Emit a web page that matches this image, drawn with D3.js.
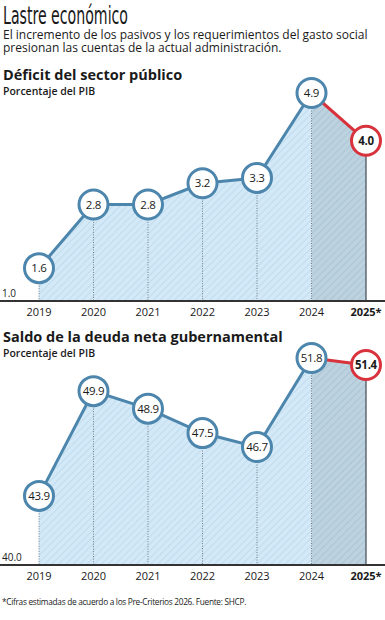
<!DOCTYPE html>
<html>
<head>
<meta charset="utf-8">
<script src="https://d3js.org/d3.v7.min.js"></script>
<style>
  body { margin: 0; background: #fff; }
  svg text { font-family: "Open Sans", "Noto Sans", sans-serif; fill: #1a1a1a; }
</style>
</head>
<body>
<div id="chart"></div>
<script>
// data
const years = ["2019", "2020", "2021", "2022", "2023", "2024", "2025*"];
const deficit = [1.6, 2.8, 2.8, 3.2, 3.3, 4.9, 4.0];
const deuda = [43.9, 49.9, 48.9, 47.5, 46.7, 51.8, 51.4];
const deficitLabels = ["1.6", "2.8", "2.8", "3.2", "3.3", "4.9", "4.0"];
const deudaLabels = ["43.9", "49.9", "48.9", "47.5", "46.7", "51.8", "51.4"];

const width = 385, height = 620;
const blue = "#4d86ad", red = "#d8333d";

const svg = d3.select("#chart").append("svg")
  .attr("width", width)
  .attr("height", height);

// hatch patterns
const defs = svg.append("defs");
function hatch(id, bg, line) {
  const p = defs.append("pattern")
    .attr("id", id)
    .attr("patternUnits", "userSpaceOnUse")
    .attr("width", 5).attr("height", 5)
    .attr("patternTransform", "rotate(45)");
  p.append("rect").attr("width", 5).attr("height", 5).attr("fill", bg);
  p.append("line").attr("x1", 0).attr("y1", 0).attr("x2", 0).attr("y2", 5)
    .attr("stroke", line).attr("stroke-width", 1.4);
}
hatch("h-light", "#d3e9f7", "#b9d7eb");
hatch("h-dark", "#bcd2df", "#a6bfcf");

// header
svg.append("text")
  .attr("x", 3).attr("y", 24)
  .attr("textLength", 125)
  .attr("lengthAdjust", "spacingAndGlyphs")
  .style("font-family", "'DejaVu Sans Condensed', 'Liberation Sans', sans-serif")
  .style("font-size", "24px")
  .text("Lastre económico");
svg.append("text").attr("x", 3).attr("y", 38.5).style("font-size", "12px")
  .text("El incremento de los pasivos y los requerimientos del gasto social");
svg.append("text").attr("x", 3).attr("y", 52).style("font-size", "12px")
  .text("presionan las cuentas de la actual administración.");

const x = d3.scalePoint().domain(years).range([39, 366]);

function drawChart(opts) {
  const g = svg.append("g");
  const y = d3.scaleLinear().domain([opts.min, opts.max]).range([opts.base, opts.top]);

  g.append("text").attr("x", 3).attr("y", opts.titleY)
    .style("font-size", "14.5px").style("font-weight", "bold")
    .text(opts.title);
  g.append("text").attr("x", 3).attr("y", opts.titleY + 15)
    .style("font-size", "10.5px").style("font-weight", "600")
    .text("Porcentaje del PIB");

  const pts = years.map((d, i) => ({ year: d, v: opts.values[i], label: opts.labels[i], i: i }));

  const area = d3.area()
    .x(d => x(d.year))
    .y0(opts.base)
    .y1(d => y(d.v));

  g.append("path").datum(pts.slice(0, 6)).attr("d", area).attr("fill", "url(#h-light)");
  g.append("path").datum(pts.slice(5)).attr("d", area).attr("fill", "url(#h-dark)");

  // dotted drop lines
  g.selectAll(".drop").data(pts.slice(0, 6)).enter().append("line")
    .attr("x1", d => x(d.year)).attr("x2", d => x(d.year))
    .attr("y1", d => y(d.v)).attr("y2", opts.base)
    .attr("stroke", "#6f7f8a").attr("stroke-width", 1)
    .attr("stroke-dasharray", "1,1.5");
  g.append("line")
    .attr("x1", x(years[6])).attr("x2", x(years[6]))
    .attr("y1", y(opts.values[6])).attr("y2", opts.base)
    .attr("stroke", "#4a5560").attr("stroke-width", 1.3);

  // line
  const line = d3.line().x(d => x(d.year)).y(d => y(d.v));
  g.append("path").datum(pts.slice(0, 6)).attr("d", line)
    .attr("fill", "none").attr("stroke", blue).attr("stroke-width", 3);
  g.append("path").datum(pts.slice(5)).attr("d", line)
    .attr("fill", "none").attr("stroke", red).attr("stroke-width", 3);

  // baseline axis
  g.append("line").attr("x1", 0).attr("x2", width)
    .attr("y1", opts.base + 1).attr("y2", opts.base + 1)
    .attr("stroke", "#333").attr("stroke-width", 2);
  g.append("text").attr("x", 2).attr("y", opts.base - 3)
    .style("font-size", "10px").text(opts.minLabel);

  g.selectAll(".yr").data(years).enter().append("text")
    .attr("x", d => x(d)).attr("y", opts.base + 16)
    .attr("text-anchor", "middle")
    .style("font-size", "11px")
    .style("font-weight", (d, i) => i === 6 ? "bold" : "normal")
    .text(d => d);

  // markers
  const m = g.selectAll(".pt").data(pts).enter().append("g")
    .attr("transform", d => "translate(" + x(d.year) + "," + y(d.v) + ")");
  m.append("circle").attr("r", 14.5)
    .attr("fill", "#fff")
    .attr("stroke", d => d.i === 6 ? red : blue)
    .attr("stroke-width", 3);
  m.append("text").attr("text-anchor", "middle").attr("dy", "0.36em")
    .style("font-size", "11.5px")
    .style("font-weight", d => d.i === 6 ? "bold" : "normal")
    .style("letter-spacing", "-0.3px")
    .text(d => d.label);
}

drawChart({
  title: "Déficit del sector público", titleY: 80,
  values: deficit, labels: deficitLabels,
  min: 1.0, max: 4.9, base: 300, top: 93, minLabel: "1.0"
});

drawChart({
  title: "Saldo de la deuda neta gubernamental", titleY: 342,
  values: deuda, labels: deudaLabels,
  min: 40.0, max: 51.8, base: 564, top: 358, minLabel: "40.0"
});

svg.append("text").attr("x", 2).attr("y", 605)
  .style("font-size", "8.3px").style("letter-spacing", "-0.3px")
  .text("*Cifras estimadas de acuerdo a los Pre-Criterios 2026. Fuente: SHCP.");
</script>
</body>
</html>
